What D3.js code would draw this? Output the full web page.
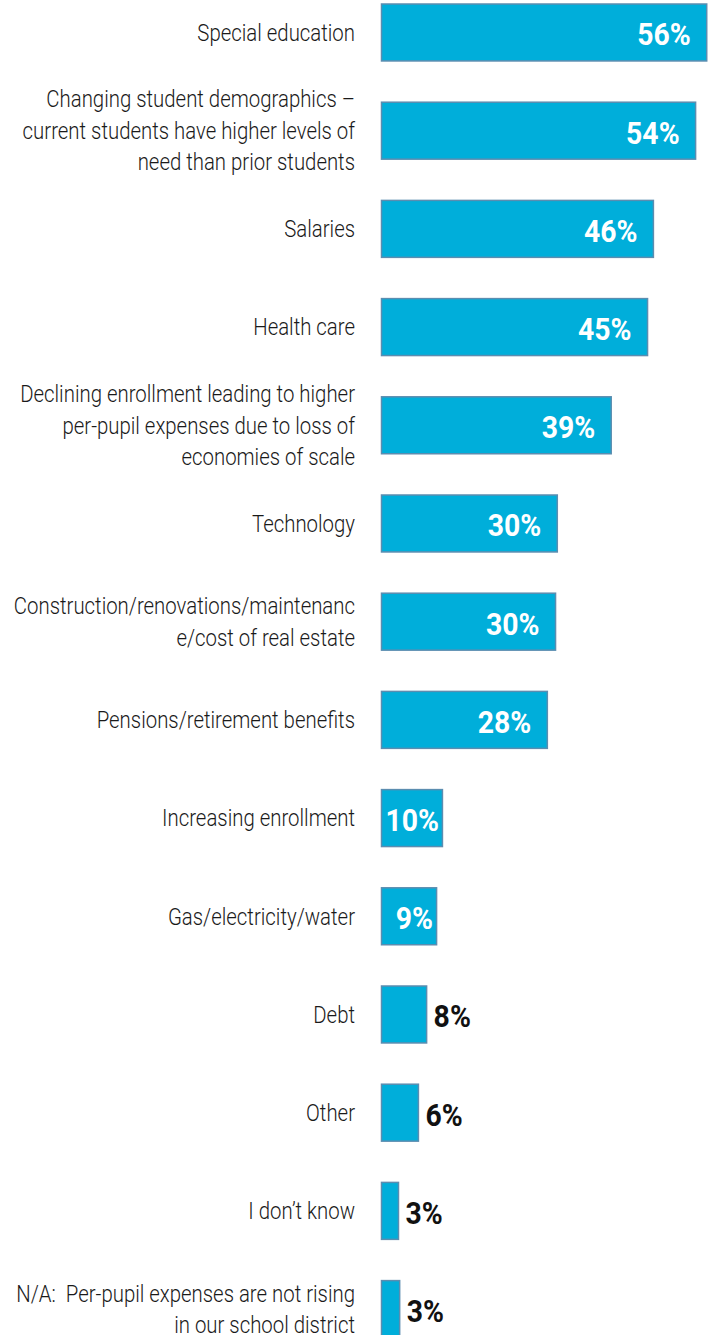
<!DOCTYPE html>
<html>
<head>
<meta charset="utf-8">
<script src="https://cdn.jsdelivr.net/npm/d3@7/dist/d3.min.js"></script>
<style>
  html, body { margin: 0; padding: 0; background: #ffffff; }
  svg { display: block; }
  text { white-space: pre; }
</style>
</head>
<body>
<svg id="chart" width="708" height="1335"></svg>
<script>
// ---- Data ----
const categories = [
  ["Special education"],
  ["Changing student demographics \u2013", "current students have higher levels of", "need than prior students"],
  ["Salaries"],
  ["Health care"],
  ["Declining enrollment leading to higher", "per-pupil expenses due to loss of", "economies of scale"],
  ["Technology"],
  ["Construction/renovations/maintenanc", "e/cost of real estate"],
  ["Pensions/retirement benefits"],
  ["Increasing enrollment"],
  ["Gas/electricity/water"],
  ["Debt"],
  ["Other"],
  ["I don\u2019t know"],
  ["N/A:\u00A0 Per-pupil expenses are not rising", "in our school district"]
];
const values = [55.5, 53.6, 46.4, 45.4, 39.2, 30.0, 29.7, 28.3, 10.4, 9.4, 7.7, 6.3, 2.9, 3.1];
const valueLabels = ["56%", "54%", "46%", "45%", "39%", "30%", "30%", "28%", "10%", "9%", "8%", "6%", "3%", "3%"];

// ---- Layout ----
const svg = d3.select("#chart");
const x0 = 381.5;
const x = d3.scaleLinear().domain([0, 100]).range([x0, x0 + 586]);
const idx = d3.range(categories.length);
const step = 98.2;
const y = d3.scaleBand()
  .domain(idx)
  .range([4 - 0.21 * step, 4 - 0.21 * step + categories.length * step])
  .paddingInner(0.42)
  .paddingOuter(0.21);

const barFill = "#00AEDA";
const barStroke = "#5B8DB0";
const catFont = "Roboto, 'Noto Sans', sans-serif";
const catSX = 0.886;
const valSX = 0.93;
const lineH = 31.5;

// Bars
svg.append("g").selectAll("rect")
  .data(idx)
  .join("rect")
  .attr("x", x(0))
  .attr("y", i => y(i))
  .attr("width", i => x(values[i]) - x(0))
  .attr("height", y.bandwidth())
  .attr("fill", barFill)
  .attr("stroke", barStroke)
  .attr("stroke-width", 1.5);

// Category labels
const catG = svg.append("g");
idx.forEach(i => {
  const cy = y(i) + y.bandwidth() / 2;
  const lines = categories[i];
  lines.forEach((ln, j) => {
    const ly = cy + (j - (lines.length - 1) / 2) * lineH;
    catG.append("text")
      .attr("transform", `translate(355,${ly}) scale(${catSX},1)`)
      .attr("text-anchor", "end")
      .attr("dy", "0.36em")
      .attr("font-family", catFont)
      .attr("font-weight", 300)
      .attr("font-size", 23)
      .attr("fill", "#1a1a1a")
      .text(ln);
  });
});

// Value labels
const valG = svg.append("g");
idx.forEach(i => {
  const cy = y(i) + y.bandwidth() / 2 + 2;
  const w = x(values[i]) - x(0);
  const inside = values[i] >= 9;
  let tx, anchor, col;
  if (inside) {
    const pad = w > 100 ? 16 : 3.5;
    tx = x(values[i]) - pad; anchor = "end"; col = "#ffffff";
  } else {
    tx = x(values[i]) + 7; anchor = "start"; col = "#111111";
  }
  valG.append("text")
    .attr("transform", `translate(${tx},${cy}) scale(${valSX},1)`)
    .attr("text-anchor", anchor)
    .attr("dy", "0.36em")
    .attr("font-family", catFont)
    .attr("font-weight", 700)
    .attr("font-size", 30.5)
    .attr("fill", col)
    .text(valueLabels[i]);
});
</script>
</body>
</html>
